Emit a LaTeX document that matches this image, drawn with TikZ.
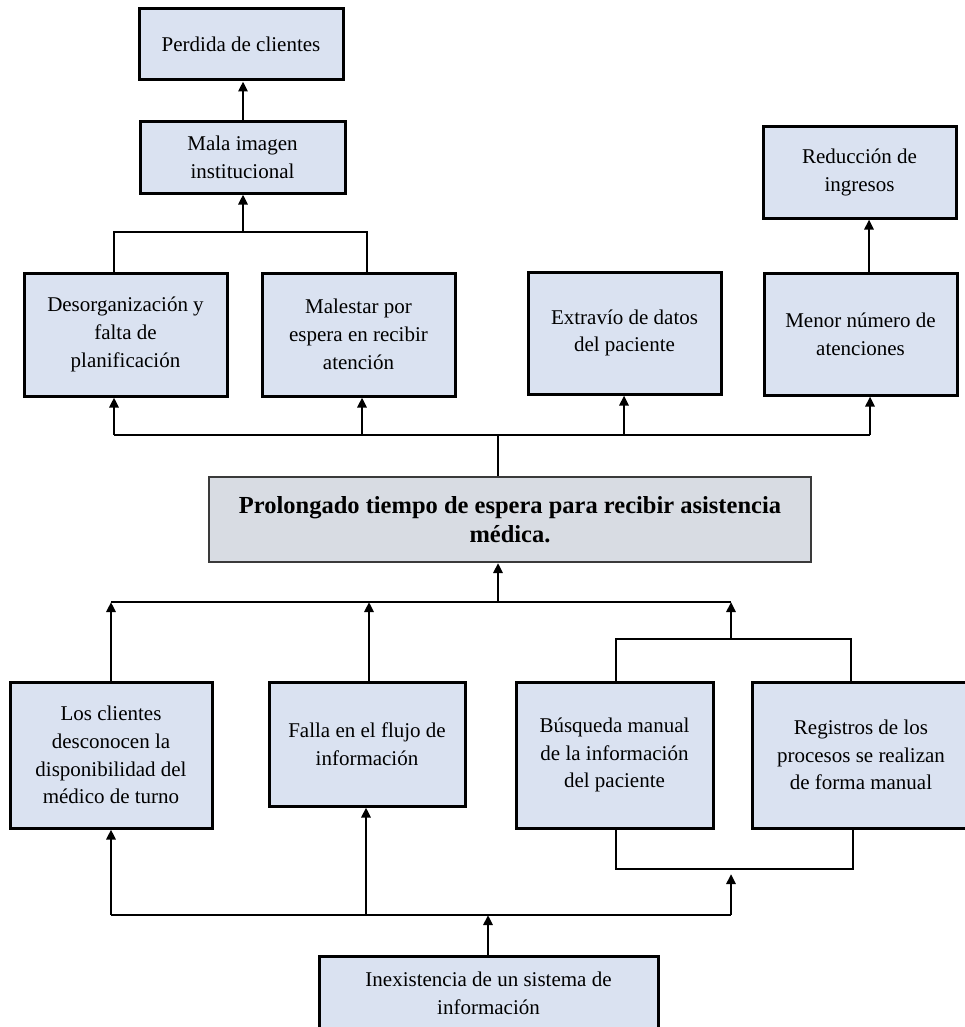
\documentclass[tikz,border=0pt]{standalone}
\usepackage{fontspec}
\setmainfont{Liberation Serif}
\usetikzlibrary{arrows.meta}
\definecolor{boxfill}{HTML}{DAE2F1}
\definecolor{mainfill}{HTML}{D8DCE3}
\definecolor{mainline}{HTML}{3A3A3A}
\tikzset{
  box/.style={draw=black, line width=3pt, fill=boxfill, rectangle, align=center,
    inner sep=0pt, font=\fontsize{21}{27.7}\selectfont},
  mainbox/.style={draw=mainline, line width=2pt, fill=mainfill, rectangle, align=center,
    inner sep=0pt, font=\fontsize{24.5}{29}\selectfont\bfseries},
  conn/.style={draw=black, line width=2.6pt},
  arr/.style={conn, -{Triangle[length=10pt,width=9pt]}},
}
\begin{document}
\begin{tikzpicture}[x=1pt,y=-1pt]
\useasboundingbox (0,0) rectangle (964,1027);
% effects
\node[box, minimum width=204pt, minimum height=71pt] (perd) at (241,44.5) {Perdida de clientes};
\node[box, minimum width=205pt, minimum height=71pt] (mala) at (242.5,157.5) {Mala imagen\\institucional};
\node[box, minimum width=203pt, minimum height=123pt] (desorg) at (125.5,334.5) {Desorganización y\\falta de\\planificación};
\node[box, minimum width=193pt, minimum height=123pt] (males) at (358.5,334.5) {Malestar por\\espera en recibir\\atención};
\node[box, minimum width=193pt, minimum height=122pt] (extrav) at (624.5,333) {Extravío de datos\\del paciente};
\node[box, minimum width=193pt, minimum height=122pt] (menor) at (860.5,334) {Menor número de\\atenciones};
\node[box, minimum width=193pt, minimum height=91pt] (reduc) at (859.5,172.5) {Reducción de\\ingresos};
% problem
\node[mainbox, minimum width=602pt, minimum height=85pt] (central) at (510,519.5) {Prolongado tiempo de espera para recibir asistencia\\médica.};
% causes
\node[box, minimum width=202pt, minimum height=146pt] (losc) at (111,755) {Los clientes\\desconocen la\\disponibilidad del\\médico de turno};
\node[box, minimum width=196pt, minimum height=124pt] (falla) at (367,744) {Falla en el flujo de\\información};
\node[box, minimum width=197pt, minimum height=146pt] (busq) at (614.5,755) {Búsqueda manual\\de la información\\del paciente};
\node[box, minimum width=218pt, minimum height=146pt] (regis) at (861,755) {Registros de los\\procesos se realizan\\de forma manual};
\node[box, minimum width=339pt, minimum height=74pt] (inex) at (488.5,993) {Inexistencia de un sistema de\\información};

% top connectors
\coordinate (m0) at (243,0);
\draw[arr] (m0 |- mala.north) -- (m0 |- perd.south);
\coordinate (b1) at (114,232);
\coordinate (b2) at (367,232);
\draw[conn] (b1 |- desorg.north) -- (b1) -- (b2) -- (b2 |- males.north);
\draw[arr] (m0 |- b1) -- (m0 |- mala.south);
\coordinate (r0) at (869,0);
\draw[arr] (r0 |- menor.north) -- (r0 |- reduc.south);
\coordinate (e0) at (498,435);
\coordinate (e1) at (114,435);
\coordinate (e2) at (362,435);
\coordinate (e3) at (624,435);
\coordinate (e4) at (870,435);
\draw[conn] (e1) -- (e4);
\draw[conn] (e0 |- central.north) -- (e0);
\draw[arr] (e1) -- (e1 |- desorg.south);
\draw[arr] (e2) -- (e2 |- males.south);
\draw[arr] (e3) -- (e3 |- extrav.south);
\draw[arr] (e4) -- (e4 |- menor.south);

% cause connectors
\coordinate (c0) at (498,602);
\coordinate (c1) at (111,602);
\coordinate (c2) at (369,602);
\coordinate (c3) at (731,602);
\draw[conn] (c1) -- (c3);
\draw[arr] (c0) -- (c0 |- central.south);
\draw[arr] (c1 |- losc.north) -- (c1);
\draw[arr] (c2 |- falla.north) -- (c2);
\coordinate (s1) at (616,639);
\coordinate (s2) at (851,639);
\draw[conn] (s1 |- busq.north) -- (s1) -- (s2) -- (s2 |- regis.north);
\draw[arr] (c3 |- s1) -- (c3);
\coordinate (u1) at (616,869);
\coordinate (u2) at (853,869);
\draw[conn] (u1 |- busq.south) -- (u1) -- (u2) -- (u2 |- regis.south);
\coordinate (u0) at (731,874);
\coordinate (d0) at (488,915);
\coordinate (d1) at (111,915);
\coordinate (d2) at (366,915);
\coordinate (d3) at (731,915);
\draw[conn] (d1) -- (d3);
\draw[arr] (d1) -- (d1 |- losc.south);
\draw[arr] (d2) -- (d2 |- falla.south);
\draw[arr] (d3) -- (u0);
\draw[arr] (d0 |- inex.north) -- (d0);
\end{tikzpicture}
\end{document}
